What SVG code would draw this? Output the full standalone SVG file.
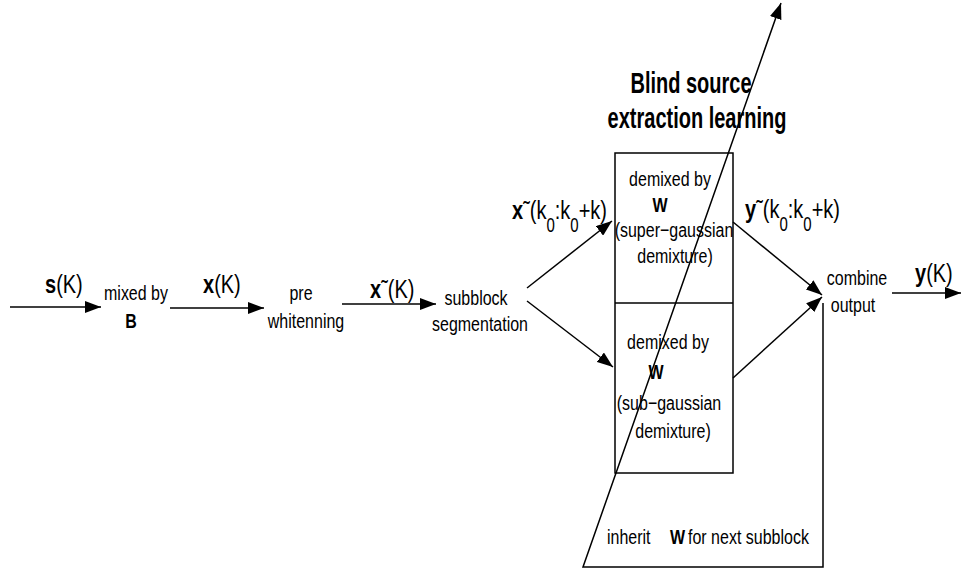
<svg xmlns="http://www.w3.org/2000/svg" width="962" height="569" viewBox="0 0 962 569">
<defs>
<marker id="ah" viewBox="0 0 16 12" refX="16" refY="6" markerWidth="16" markerHeight="12" markerUnits="userSpaceOnUse" orient="auto">
<path d="M0,0 L16,6 L0,12 Z" fill="#000"/>
</marker>
</defs>
<style>
text{font-family:"Liberation Sans",Arial,sans-serif;fill:#000}
.t{font-size:16px}
.l{font-size:20px}
.b{font-weight:bold}
.h{font-size:20px;font-weight:bold}
.m{text-anchor:middle}
.ln{stroke:#000;stroke-width:1.5;fill:none}
.bx{stroke:#000;stroke-width:1.5;fill:none}
</style>
<rect width="962" height="569" fill="#fff"/>
<g id="connectors">
<line class="ln" x1="10" y1="307" x2="101" y2="307" marker-end="url(#ah)"/>
<line class="ln" x1="170" y1="308" x2="264" y2="308" marker-end="url(#ah)"/>
<line class="ln" x1="342" y1="304" x2="436" y2="304" marker-end="url(#ah)"/>
<line class="ln" x1="527" y1="288" x2="612" y2="221" marker-end="url(#ah)"/>
<line class="ln" x1="527" y1="301" x2="613" y2="367" marker-end="url(#ah)"/>
<line class="ln" x1="733" y1="222" x2="822" y2="295" marker-end="url(#ah)"/>
<line class="ln" x1="733" y1="378" x2="822" y2="297" marker-end="url(#ah)"/>
<line class="ln" x1="892" y1="293" x2="961" y2="293" marker-end="url(#ah)"/>
<polyline class="ln" points="823,303 823,567 583,567 781,3" stroke-width="1.3" marker-end="url(#ah)"/>
</g>
<g id="title">
<text class="h m" transform="translate(691 93) scale(1 1.45)">Blind source</text>
<text class="h m" transform="translate(697 128) scale(1 1.45)">extraction learning</text>
</g>
<g id="source">
<text class="l" transform="translate(45 293) scale(1 1.3)"><tspan class="b">s</tspan>(K)</text>
</g>
<g id="mix">
<text class="t m" transform="translate(136 300) scale(1 1.3)">mixed by</text>
<text class="t m b" transform="translate(131 328) scale(1 1.3)">B</text>
</g>
<g id="xlabel">
<text class="l" transform="translate(203 293) scale(1 1.3)"><tspan class="b">x</tspan>(K)</text>
</g>
<g id="prewhiten">
<text class="t m" transform="translate(301 300) scale(1 1.3)">pre</text>
<text class="t m" transform="translate(306 328) scale(1 1.3)">whitenning</text>
</g>
<g id="xtlabel">
<text class="l" transform="translate(370 298) scale(1 1.3)"><tspan class="b">x</tspan>˜(K)</text>
</g>
<g id="segment">
<text class="t m" transform="translate(476 305) scale(1 1.3)">subblock</text>
<text class="t m" transform="translate(480 331) scale(1 1.3)">segmentation</text>
</g>
<g id="xsub">
<text class="l" transform="translate(512 219) scale(1 1.3)"><tspan class="b">x</tspan>˜(k<tspan font-size="15" dy="10">0</tspan><tspan dy="-10">:k</tspan><tspan font-size="15" dy="10">0</tspan><tspan dy="-10">+k)</tspan></text>
</g>
<g id="demix">
<rect class="bx" x="615" y="153" width="118" height="320"/>
<line class="bx" x1="615" y1="303" x2="733" y2="303"/>
<text class="t m" transform="translate(670 186) scale(1 1.3)">demixed by</text>
<text class="t m b" transform="translate(660 212) scale(1 1.3)">W</text>
<text class="t m" transform="translate(674 237) scale(1 1.3)">(super−gaussian</text>
<text class="t m" transform="translate(675 263) scale(1 1.3)">demixture)</text>
<text class="t m" transform="translate(668 349) scale(1 1.3)">demixed by</text>
<text class="t m b" transform="translate(656 379) scale(1 1.3)">W</text>
<text class="t m" transform="translate(669 410) scale(1 1.3)">(sub−gaussian</text>
<text class="t m" transform="translate(673 438) scale(1 1.3)">demixture)</text>
</g>
<g id="ysub">
<text class="l" transform="translate(745 218) scale(1 1.3)"><tspan class="b">y</tspan>˜(k<tspan font-size="15" dy="10">0</tspan><tspan dy="-10">:k</tspan><tspan font-size="15" dy="10">0</tspan><tspan dy="-10">+k)</tspan></text>
</g>
<g id="combine">
<text class="t m" transform="translate(857 285) scale(1 1.3)">combine</text>
<text class="t m" transform="translate(853 312) scale(1 1.3)">output</text>
</g>
<g id="ylabel">
<text class="l" transform="translate(915 282) scale(1 1.3)"><tspan class="b">y</tspan>(K)</text>
</g>
<g id="inherit">
<text class="t" transform="translate(607 544) scale(1 1.3)">inherit<tspan x="63" class="b">W</tspan><tspan x="81">for next subblock</tspan></text>
</g>
</svg>
